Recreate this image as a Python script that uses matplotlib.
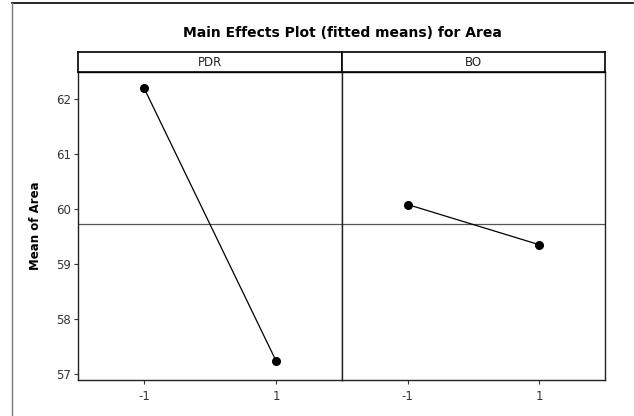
import matplotlib.pyplot as plt
from matplotlib.lines import Line2D

# fitted means for each factor
factors = ["PDR", "BO"]
levels = [-1, 1]
means_pdr = [62.2, 57.24]
means_bo = [60.08, 59.35]
grand_mean = 59.72
yticks = [57, 58, 59, 60, 61, 62]

W, H = 634, 416
fig = plt.figure(figsize=(W / 100, H / 100), dpi=100)
plt.rcParams['font.family'] = ['DejaVu Sans']

# outer frame (top + left only)
fig.add_artist(Line2D([12 / W, 633 / W], [1 - 3 / H, 1 - 3 / H], color="black", lw=1.2))
fig.add_artist(Line2D([12 / W, 12 / W], [0, 1 - 3 / H], color="#777777", lw=1))

fig.text(342 / W, 1 - 33 / H, "Main Effects Plot (fitted means) for Area",
         ha="center", va="center", fontsize=10, fontweight="bold")

bottom, top = 380, 72
panels = [(78, 342), (342, 605)]
data = [means_pdr, means_bo]

for i, ((x0, x1), name, vals) in enumerate(zip(panels, factors, data)):
    ax = fig.add_axes([x0 / W, 1 - bottom / H, (x1 - x0) / W, (bottom - top) / H])
    ax.axhline(grand_mean, color="#555555", lw=0.9)
    ax.plot(levels, vals, color="black", lw=0.9, marker="o", markersize=5.5)
    ax.set_xlim(-2, 2)
    ax.set_ylim(56.89, 62.49)
    ax.set_xticks(levels)
    ax.set_xticklabels([str(v) for v in levels])
    ax.tick_params(axis="x", length=3, width=0.8, labelsize=8.5, colors="#333333", pad=4)
    if i == 0:
        ax.set_yticks(yticks)
        ax.tick_params(axis="y", length=3, width=0.8, labelsize=8.5, colors="#333333", pad=2)
        ax.set_ylabel("Mean of Area", fontsize=8.5, fontweight="bold", labelpad=10)
    else:
        ax.set_yticks([])
    for s in ax.spines.values():
        s.set_linewidth(1.0)
        s.set_color("#222222")

    # strip label
    sax = fig.add_axes([x0 / W, 1 - 72 / H, (x1 - x0) / W, 20 / H])
    sax.set_xticks([])
    sax.set_yticks([])
    for s in sax.spines.values():
        s.set_linewidth(1.2)
        s.set_color("black")
    sax.text(0.5, 0.5, name, ha="center", va="center", fontsize=8.5, color="#222222",
             transform=sax.transAxes)

fig.savefig("out.png", dpi=100, facecolor="white")
